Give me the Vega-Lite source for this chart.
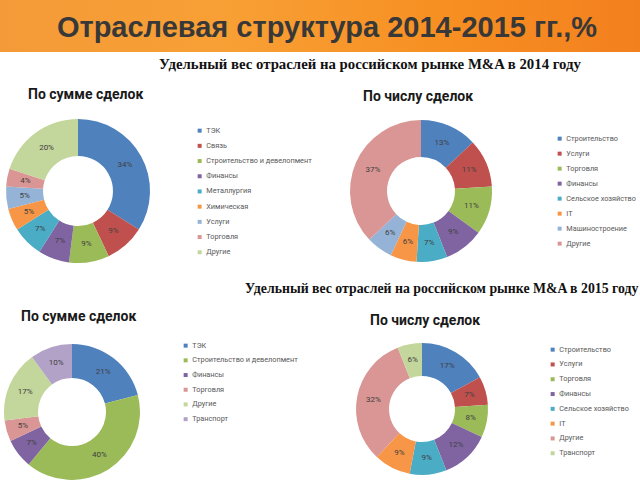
{
  "$schema": "https://vega.github.io/schema/vega-lite/v6.json",
  "padding": 0,
  "background": "white",
  "bounds": "flush",
  "spacing": 67,
  "datasets": {
    "s2014": [
      {"c": "ТЭК", "v": 0.34, "o": 1},
      {"c": "Связь", "v": 0.09, "o": 2},
      {"c": "Строительство  и девелопмент", "v": 0.09, "o": 3},
      {"c": "Финансы", "v": 0.07, "o": 4},
      {"c": "Металлургия", "v": 0.07, "o": 5},
      {"c": "Химическая", "v": 0.05, "o": 6},
      {"c": "Услуги", "v": 0.05, "o": 7},
      {"c": "Торговля", "v": 0.04, "o": 8},
      {"c": "Другие", "v": 0.20, "o": 9}
    ],
    "n2014": [
      {"c": "Строительство", "v": 0.13, "o": 1},
      {"c": "Услуги", "v": 0.11, "o": 2},
      {"c": "Торговля", "v": 0.11, "o": 3},
      {"c": "Финансы", "v": 0.09, "o": 4},
      {"c": "Сельское хозяйство", "v": 0.07, "o": 5},
      {"c": "IT", "v": 0.06, "o": 6},
      {"c": "Машиностроение", "v": 0.06, "o": 7},
      {"c": "Другие", "v": 0.37, "o": 8}
    ],
    "s2015": [
      {"c": "ТЭК", "v": 0.21, "o": 1},
      {"c": "Строительство  и девелопмент", "v": 0.40, "o": 2},
      {"c": "Финансы", "v": 0.07, "o": 3},
      {"c": "Торговля", "v": 0.05, "o": 4},
      {"c": "Другие", "v": 0.17, "o": 5},
      {"c": "Транспорт", "v": 0.10, "o": 6}
    ],
    "n2015": [
      {"c": "Строительство", "v": 0.17, "o": 1},
      {"c": "Услуги", "v": 0.07, "o": 2},
      {"c": "Торговля", "v": 0.08, "o": 3},
      {"c": "Финансы", "v": 0.12, "o": 4},
      {"c": "Сельское хозяйство", "v": 0.09, "o": 5},
      {"c": "IT", "v": 0.09, "o": 6},
      {"c": "Другие", "v": 0.32, "o": 7},
      {"c": "Транспорт", "v": 0.06, "o": 8}
    ]
  },
  "vconcat": [
    {
      "width": 640,
      "height": 52,
      "data": {"values": [{}]},
      "title": {
        "text": "Удельный вес отраслей на российском рынке M&A в 2014 году",
        "orient": "bottom",
        "anchor": "middle",
        "frame": "group",
        "dx": 50,
        "offset": 17,
        "baseline": "alphabetic",
        "font": "Liberation Serif",
        "fontSize": 14.8,
        "fontWeight": "bold",
        "color": "#111111"
      },
      "layer": [
        {
          "mark": {
            "type": "rect",
            "stroke": null,
            "fill": {
              "gradient": "linear",
              "x1": 0, "y1": 0, "x2": 1, "y2": 0,
              "stops": [
                {"offset": 0, "color": "#F49A38"},
                {"offset": 0.35, "color": "#F8A035"},
                {"offset": 0.7, "color": "#F78F22"},
                {"offset": 1, "color": "#F3801E"}
              ]
            }
          },
          "encoding": {}
        },
        {
          "mark": {
            "type": "text",
            "text": "Отраслевая структура 2014-2015 гг.,%",
            "font": "Liberation Sans",
            "fontWeight": "bold",
            "fontSize": 29,
            "color": "#383838",
            "baseline": "alphabetic",
            "align": "center",
            "dx": 7,
            "dy": 11
          },
          "encoding": {}
        }
      ]
    },
    {
      "columns": 2,
      "align": "none",
      "bounds": "flush",
      "spacing": {"row": 81, "column": 193},
      "title": {
        "text": "Удельный вес отраслей на российском рынке M&A в 2015 году",
        "orient": "top",
        "anchor": "start",
        "frame": "group",
        "dx": 245,
        "offset": -219,
        "baseline": "alphabetic",
        "font": "Liberation Serif",
        "fontSize": 13.8,
        "fontWeight": "bold",
        "color": "#111111"
      },
      "resolve": {
        "scale": {"color": "independent", "theta": "independent"},
        "legend": {"color": "independent"}
      },
      "concat": [
        {
          "width": 156,
          "height": 144,
          "title": {"text": "По сумме сделок", "dx": 28, "offset": 17},
          "data": {"name": "s2014"},
          "encoding": {
            "theta": {"field": "v", "type": "quantitative", "stack": true},
            "order": {"field": "o", "type": "quantitative"}
          },
          "layer": [
            {
              "mark": {"type": "arc", "outerRadius": 72, "innerRadius": 35},
              "encoding": {
                "color": {
                  "field": "c", "type": "nominal",
                  "scale": {
                    "domain": ["ТЭК", "Связь", "Строительство  и девелопмент", "Финансы", "Металлургия", "Химическая", "Услуги", "Торговля", "Другие"],
                    "range": ["#4F81BD", "#C0504D", "#9BBB59", "#8064A2", "#4BACC6", "#F79646", "#95B3D7", "#D99694", "#C3D69B"]
                  },
                  "legend": {"title": null, "legendX": 196, "legendY": 8, "rowPadding": 7.2}
                }
              }
            },
            {
              "mark": {"type": "text", "radius": 53.5, "fontSize": 8, "font": "Roboto", "color": "#404040"},
              "encoding": {
                "text": {"field": "v", "type": "quantitative", "format": ".0%"},
                "detail": {"field": "c", "type": "nominal"}
              }
            }
          ]
        },
        {
          "width": 144,
          "height": 144,
          "title": {"text": "По числу сделок", "dx": 14, "offset": 15},
          "data": {"name": "n2014"},
          "encoding": {
            "theta": {"field": "v", "type": "quantitative", "stack": true},
            "order": {"field": "o", "type": "quantitative"}
          },
          "layer": [
            {
              "mark": {"type": "arc", "outerRadius": 71, "innerRadius": 34},
              "encoding": {
                "color": {
                  "field": "c", "type": "nominal",
                  "scale": {
                    "domain": ["Строительство", "Услуги", "Торговля", "Финансы", "Сельское хозяйство", "IT", "Машиностроение", "Другие"],
                    "range": ["#4F81BD", "#C0504D", "#9BBB59", "#8064A2", "#4BACC6", "#F79646", "#95B3D7", "#D99694"]
                  },
                  "legend": {"title": null, "legendX": 207, "legendY": 16, "rowPadding": 7}
                }
              }
            },
            {
              "mark": {"type": "text", "radius": 52.5, "fontSize": 8, "font": "Roboto", "color": "#404040"},
              "encoding": {
                "text": {"field": "v", "type": "quantitative", "format": ".0%"},
                "detail": {"field": "c", "type": "nominal"}
              }
            }
          ]
        },
        {
          "width": 144,
          "height": 136,
          "title": {"text": "По сумме сделок", "dx": 21, "offset": 18},
          "data": {"name": "s2015"},
          "encoding": {
            "theta": {"field": "v", "type": "quantitative", "stack": true},
            "order": {"field": "o", "type": "quantitative"}
          },
          "layer": [
            {
              "mark": {"type": "arc", "outerRadius": 68, "innerRadius": 34},
              "encoding": {
                "color": {
                  "field": "c", "type": "nominal",
                  "scale": {
                    "domain": ["ТЭК", "Строительство  и девелопмент", "Финансы", "Торговля", "Другие", "Транспорт"],
                    "range": ["#4F81BD", "#9BBB59", "#8064A2", "#D99694", "#C3D69B", "#B3A2C7"]
                  },
                  "legend": {"title": null, "legendX": 182, "legendY": -2, "rowPadding": 6.7}
                }
              }
            },
            {
              "mark": {"type": "text", "radius": 51, "fontSize": 8, "font": "Roboto", "color": "#404040"},
              "encoding": {
                "text": {"field": "v", "type": "quantitative", "format": ".0%"},
                "detail": {"field": "c", "type": "nominal"}
              }
            }
          ]
        },
        {
          "width": 146,
          "height": 130,
          "title": {"text": "По числу сделок", "dx": 21, "offset": 15},
          "data": {"name": "n2015"},
          "encoding": {
            "theta": {"field": "v", "type": "quantitative", "stack": true},
            "order": {"field": "o", "type": "quantitative"}
          },
          "layer": [
            {
              "mark": {"type": "arc", "outerRadius": 66, "innerRadius": 33},
              "encoding": {
                "color": {
                  "field": "c", "type": "nominal",
                  "scale": {
                    "domain": ["Строительство", "Услуги", "Торговля", "Финансы", "Сельское хозяйство", "IT", "Другие", "Транспорт"],
                    "range": ["#4F81BD", "#C0504D", "#9BBB59", "#8064A2", "#4BACC6", "#F79646", "#D99694", "#C3D69B"]
                  },
                  "legend": {"title": null, "legendX": 200, "legendY": 2, "rowPadding": 6.8}
                }
              }
            },
            {
              "mark": {"type": "text", "radius": 49.5, "fontSize": 8, "font": "Roboto", "color": "#404040"},
              "encoding": {
                "text": {"field": "v", "type": "quantitative", "format": ".0%"},
                "detail": {"field": "c", "type": "nominal"}
              }
            }
          ]
        }
      ]
    }
  ],
  "config": {
    "view": {"stroke": null},
    "font": "Roboto",
    "title": {
      "font": "Roboto",
      "fontSize": 14,
      "fontWeight": "bold",
      "color": "#1a1a1a",
      "anchor": "start",
      "frame": "group",
      "baseline": "alphabetic"
    },
    "legend": {
      "orient": "none",
      "padding": 0,
      "symbolType": "square",
      "symbolSize": 16,
      "symbolStrokeWidth": 0,
      "symbolOpacity": 1,
      "labelFont": "Roboto",
      "labelFontSize": 7.3,
      "labelColor": "#595959",
      "labelOffset": 3,
      "labelLimit": 300
    }
  }
}
